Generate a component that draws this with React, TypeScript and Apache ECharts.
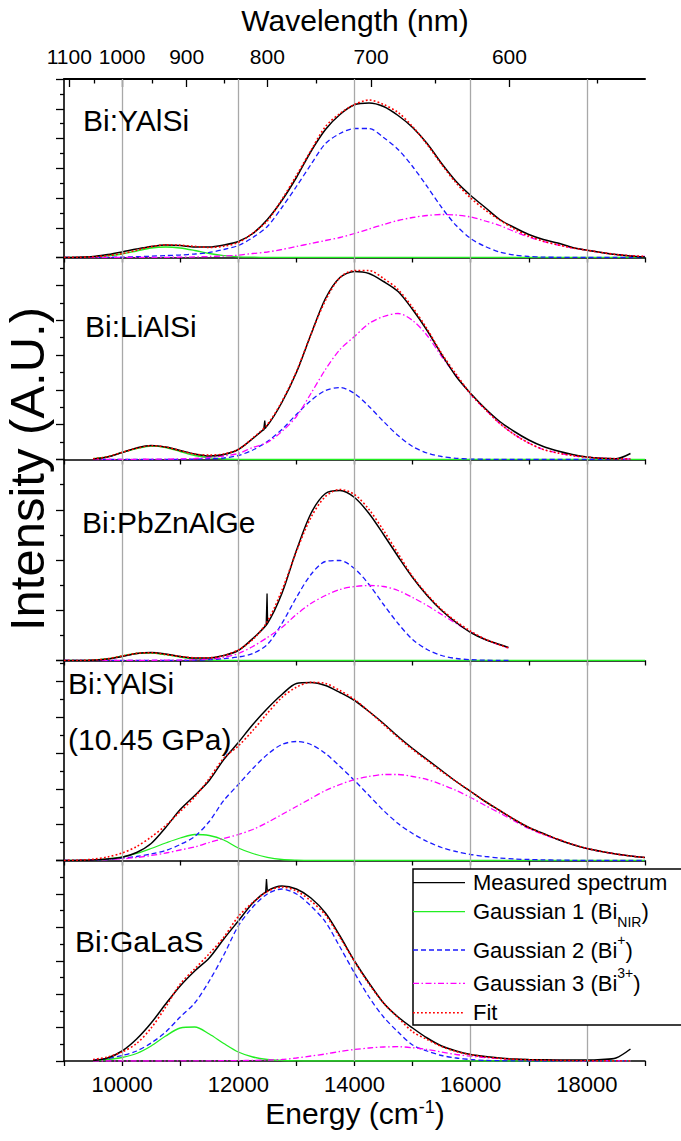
import React, { useEffect, useRef } from 'react';
import * as echarts from 'echarts';

const FONT = '"Liberation Sans", Arial, Helvetica, sans-serif';

// ---------- data ----------
const energy = [9000, 9250, 9500, 9750, 10000, 10250, 10500, 10750, 11000, 11250, 11500, 11750, 12000, 12250, 12500, 12750, 13000, 13250, 13500, 13750, 14000, 14250, 14500, 14750, 15000, 15250, 15500, 15750, 16000, 16250, 16500, 16750, 17000, 17250, 17500, 17750, 18000, 18250, 18500, 18750, 19000];
const energyP3 = [9000, 9250, 9500, 9750, 10000, 10250, 10500, 10750, 11000, 11250, 11500, 11750, 12000, 12250, 12500, 12750, 13000, 13250, 13500, 13750, 14000, 14250, 14500, 14750, 15000, 15250, 15500, 15750, 16000, 16250, 16500, 16650];

// Panel 1: Bi:YAlSi
const p1Measured = [0, 0.3, 1, 3, 5.6, 8.5, 11, 12.5, 12, 10.5, 10.5, 12.5, 16, 24, 38, 57, 80, 106, 128, 143, 152.7, 154.5, 151, 142, 130, 114, 94, 76, 62, 50, 38, 30, 23, 18, 14.5, 10, 7.3, 5, 3, 1.5, 0.5];
const p1G1 = [0, 0.2, 0.6, 1.7, 3.5, 6.5, 9.5, 10.5, 9.5, 7, 4, 1.8, 0.7, 0.3, 0.1, 0, 0, 0, 0, 0, 0, 0, 0, 0, 0, 0, 0, 0, 0, 0, 0, 0, 0, 0, 0, 0, 0, 0, 0, 0, 0];
const p1G2 = [0, 0, 0.1, 0.2, 0.4, 0.8, 1.3, 1.9, 2.5, 3.5, 5, 8, 12, 20, 31, 50, 71, 93, 114, 124, 129, 129, 120, 108, 91, 71, 50, 32, 19, 11, 5.5, 2.5, 1, 0.4, 0.2, 0.1, 0, 0, 0, 0, 0];
const p1G3 = [0, 0, 0, 0, 0, 0.05, 0.1, 0.2, 0.3, 0.6, 1, 1.5, 2.3, 4, 5.5, 8, 11, 14, 17, 20, 24, 28.5, 33, 37, 40, 42, 43, 42.5, 40.5, 36.5, 32, 26, 20.5, 16, 12.5, 9.5, 7.3, 5, 3, 1.8, 1];

// Panel 2: Bi:LiAlSi
const p2Measured = [null, null, 0.5, 2.5, 7, 11.5, 14, 12.5, 9, 5.5, 3.5, 5, 10, 21, 34, 57, 87, 125, 161, 182, 188, 186, 178, 168, 150, 129, 105, 83, 66, 51, 38, 28, 19.5, 13, 8.5, 5, 2.5, 1.2, 0.8, 6, null];
const p2G1 = [null, null, 0.8, 2.8, 7, 11, 13.5, 12, 8, 4, 1.6, 0.5, 0.1, 0, 0, 0, 0, 0, 0, 0, 0, 0, 0, 0, 0, 0, 0, 0, 0, 0, 0, 0, 0, 0, 0, 0, 0, 0, 0, 0, 0];
const p2G2 = [null, null, 0, 0, 0, 0, 0, 0.1, 0.2, 0.4, 0.8, 1.5, 4, 9.5, 18, 30, 45, 59, 69, 72, 66, 53, 38, 24, 13, 6.5, 3, 1.2, 0.5, 0.2, 0.1, 0, 0, 0, 0, 0, 0, 0, 0, 0, null];
const p2G3 = [null, null, 0, 0.05, 0.1, 0.2, 0.3, 0.4, 0.6, 1, 2, 3.5, 6, 12, 17, 28, 43, 66, 90, 110, 123, 136, 143, 146, 139, 124, 103, 84, 65, 50, 36, 25, 16.5, 10, 6.5, 4, 2.3, 1.3, 0.8, 0.5, null];
const p2Spike: [number, number][] = [[12435, 29], [12455, 39], [12470, 31]];

// Panel 3: Bi:PbZnAlGe (components on energyP3, Gaussian 1 on energy)
const p3Measured = [0, 0, 0.3, 1.5, 4, 7, 8, 6.5, 4, 2.5, 2.5, 5, 10, 22, 37, 67, 110, 147, 167, 170, 163, 147, 126, 104, 83, 65, 50, 38, 28, 21, 16, 13];
const p3G1 = [0, 0, 0.5, 1.8, 4.5, 7, 7.5, 5.8, 3.4, 1.5, 0.5, 0.15, 0.05, 0, 0, 0, 0, 0, 0, 0, 0, 0, 0, 0, 0, 0, 0, 0, 0, 0, 0, 0, 0, 0, 0, 0, 0, 0, 0, 0, 0];
const p3G2 = [0, 0, 0, 0, 0, 0, 0, 0, 0.1, 0.3, 0.8, 1.8, 3.5, 7, 16, 37, 63, 86, 99, 100, 92, 76, 56, 37, 21, 11, 5, 2, 0.8, 0.3, 0.1, 0];
const p3G3 = [0, 0, 0, 0, 0.05, 0.1, 0.2, 0.3, 0.5, 0.9, 1.5, 3, 7, 14, 23, 33, 46, 57, 65, 71, 74, 75, 74, 70, 63, 55, 46, 37, 28.5, 21, 15.5, 12.5];
const p3Spike: [number, number][] = [[12480, 36], [12495, 67], [12505, 38]];

// Panel 4: Bi:YAlSi (10.45 GPa)
const p4Measured = [0, 0.2, 0.6, 1.5, 3.3, 8, 17, 33, 51, 65, 80, 101, 118, 136, 152, 166, 177, 178, 175, 168, 160, 149, 137, 124, 112, 101, 90, 79, 69, 59, 50, 41, 33, 27, 21, 16, 12, 9, 6.5, 4.5, 3];
const p4G1 = [0, 0.1, 0.4, 1.5, 3.5, 7, 12, 17.5, 22.5, 26, 25, 20.5, 12.5, 7, 3.2, 1, 0.3, 0.1, 0, 0, 0, 0, 0, 0, 0, 0, 0, 0, 0, 0, 0, 0, 0, 0, 0, 0, 0, 0, 0, 0, 0];
const p4G2 = [0, 0.1, 0.4, 1, 2.3, 4, 6.5, 10, 16, 24, 39, 60, 76, 92, 106, 116, 119, 116, 107, 94, 80, 65, 50, 37, 27, 19, 13, 9, 6, 4, 2.5, 1.5, 1, 0.6, 0.4, 0.2, 0.1, 0, 0, 0, 0];
const p4G3 = [0, 0.2, 0.5, 1, 1.7, 3, 5, 7.5, 10.5, 13.5, 18, 22, 26, 31, 38, 46, 54, 62, 70, 76, 81, 84, 86, 86, 84, 81, 76, 70, 63, 55, 47.5, 39.5, 32, 26, 21, 16, 12, 9, 6.5, 4.5, 3];

// Panel 5: Bi:GaLaS
const p5Measured = [null, null, 0.5, 3, 10, 22, 38, 57, 75, 90, 103, 122, 140, 158, 170, 175, 172, 163, 148, 125, 100, 78, 58, 44, 33, 23, 15, 10, 6.5, 4.5, 3, 2, 1.5, 1.2, 1, 1, 1, 1.5, 3, 12, null];
const p5G1 = [null, null, 0.5, 1.5, 3.5, 7.5, 15, 25, 33, 34, 27, 17.5, 9, 4, 1.5, 0.5, 0.1, 0, 0, 0, 0, 0, 0, 0, 0, 0, 0, 0, 0, 0, 0, 0, 0, 0, 0, 0, 0, 0, 0, 0, null];
const p5G2 = [null, null, 1, 2.5, 5.5, 10, 18, 29, 44, 58, 80, 106, 135, 154, 167, 172, 167, 155, 139, 114, 88, 64, 44, 29, 16, 10, 5.5, 3, 1.5, 0.6, 0.3, 0.1, 0, 0, 0, 0, 0, 0, 0, 0, null];
const p5G3 = [null, null, 0, 0, 0, 0, 0, 0, 0.1, 0.15, 0.2, 0.3, 0.4, 0.6, 1, 1.5, 3, 5, 7, 9.5, 11.5, 13, 14, 14.3, 13.3, 11.5, 9, 6.5, 4.8, 3.5, 2.4, 1.7, 1.2, 0.8, 0.5, 0.3, 0.2, 0.1, 0.1, 0, null];
const p5Spike: [number, number][] = [[12470, 168], [12485, 182], [12500, 170]];

const gridEnergies = [10000, 12000, 14000, 16000, 18000];
const majorWavelengths = [1100, 1000, 900, 800, 700, 600];
const minorWavelengths = [1050, 950, 850, 750, 650, 550];
const panelLabels = ['Bi:YAlSi', 'Bi:LiAlSi', 'Bi:PbZnAlGe', 'Bi:YAlSi\n(10.45 GPa)', 'Bi:GaLaS'];
const legendLabels = [
  'Measured spectrum',
  '{a|Gaussian 1 (Bi}{sub|NIR}{a|)}',
  '{a|Gaussian 2 (Bi}{sup|+}{a|)}',
  '{a|Gaussian 3 (Bi}{sup|3+}{a|)}',
  'Fit',
];

// ---------- helpers ----------
type Pt = [number, number];
type Arr = (number | null)[];
function pairs(xs: number[], ys: Arr): Pt[] {
  const out: Pt[] = [];
  xs.forEach((x, i) => {
    const y = ys[i];
    if (y !== null && y !== undefined) out.push([x, y]);
  });
  return out;
}
function valueAt(xs: number[], ys: Arr, x: number): number {
  const i = xs.indexOf(x);
  if (i < 0) return 0;
  const v = ys[i];
  return v == null ? 0 : v;
}
function fitPairs(xs: number[], ref: Arr, comps: [number[], Arr][]): Pt[] {
  const out: Pt[] = [];
  xs.forEach((x, i) => {
    if (ref[i] == null) return;
    let s = 0;
    comps.forEach(([cx, cy]) => (s += valueAt(cx, cy, x)));
    out.push([x, s]);
  });
  return out;
}

const panels = [
  { m: p1Measured, mx: energy, g1: p1G1, g1x: energy, g2: p1G2, g3: p1G3, cx: energy, spike: [] as Pt[] },
  { m: p2Measured, mx: energy, g1: p2G1, g1x: energy, g2: p2G2, g3: p2G3, cx: energy, spike: p2Spike },
  { m: p3Measured, mx: energyP3, g1: p3G1, g1x: energy, g2: p3G2, g3: p3G3, cx: energyP3, spike: p3Spike },
  { m: p4Measured, mx: energy, g1: p4G1, g1x: energy, g2: p4G2, g3: p4G3, cx: energy, spike: [] as Pt[] },
  { m: p5Measured, mx: energy, g1: p5G1, g1x: energy, g2: p5G2, g3: p5G3, cx: energy, spike: p5Spike },
];

// layout
const LEFT = 64;
const RIGHT = 681 - 645;
const tops = [79, 257.5, 459.5, 660.5, 860.5];
const heights = [178.5, 202, 201, 200, 200.5];
const intervals = [29.75, 34.8, 50.25, 35.8, 33.4];
const labelPos = [[83, 120], [85, 326], [82, 522], [68, 711], [75, 941]];

const COLORS = { measured: '#000000', g1: '#22ee22', g2: '#1a1aff', g3: '#ff00ff', fit: '#ff0000' };

function buildOption() {
  const grids = tops.map((t, i) => ({ left: LEFT, right: RIGHT, top: t, height: heights[i] }));

  const xAxes: any[] = tops.map((_, i) => ({
    type: 'value',
    gridIndex: i,
    min: 9000,
    max: 19000,
    interval: 1000,
    position: 'bottom',
    axisLine: { show: true, onZero: false, lineStyle: { color: '#000', width: 1.6 } },
    axisTick: { show: true, inside: false, length: 5, lineStyle: { color: '#000', width: 1.3 } },
    axisLabel: {
      show: i === 4,
      color: '#000',
      fontSize: 22,
      fontFamily: FONT,
      margin: 12,
      formatter: (v: number) => (v % 2000 === 0 ? String(v) : ''),
    },
    splitLine: { show: false },
  }));
  const majorE = majorWavelengths.map((w) => 1e7 / w);
  const minorE = minorWavelengths.map((w) => 1e7 / w);
  xAxes.push({
    type: 'value',
    gridIndex: 0,
    min: 9000,
    max: 19000,
    position: 'top',
    axisLine: { show: true, onZero: false, lineStyle: { color: '#000', width: 2 } },
    axisTick: { show: true, inside: true, length: 8, customValues: majorE, lineStyle: { color: '#000', width: 1.3 } },
    axisLabel: {
      show: true,
      customValues: majorE,
      color: '#000',
      fontSize: 21,
      fontFamily: FONT,
      margin: 12,
      formatter: (v: number) => String(Math.round(1e7 / v)),
    },
    splitLine: { show: false },
  });
  xAxes.push({
    type: 'value',
    gridIndex: 0,
    min: 9000,
    max: 19000,
    position: 'top',
    axisLine: { show: false, onZero: false },
    axisTick: { show: true, inside: true, length: 4.5, customValues: minorE, lineStyle: { color: '#000', width: 1.3 } },
    axisLabel: { show: false },
    splitLine: { show: false },
  });

  const yAxes = tops.map((_, i) => ({
    type: 'value',
    gridIndex: i,
    min: 0,
    max: heights[i],
    interval: intervals[i],
    axisLine: { show: true, onZero: false, lineStyle: { color: '#000', width: 1.6 } },
    axisTick: { show: true, inside: false, length: 8, lineStyle: { color: '#000', width: 1.3 } },
    minorTick: { show: true, splitNumber: 2, length: 4, lineStyle: { color: '#000', width: 1.3 } },
    axisLabel: { show: false },
    splitLine: { show: false },
    minorSplitLine: { show: false },
  }));

  const series: any[] = [];
  panels.forEach((p, i) => {
    const common = { xAxisIndex: i, yAxisIndex: i, type: 'line', symbol: 'none', silent: true, smooth: 0.3 };
    series.push({
      ...common,
      name: 'grid' + i,
      data: [[9000, 0]],
      lineStyle: { width: 0, opacity: 0 },
      z: 1,
      markLine: {
        silent: true,
        symbol: ['none', 'none'],
        label: { show: false },
        emphasis: { disabled: true },
        lineStyle: { color: '#a8a8a8', width: 1.3, type: 'solid' },
        data: gridEnergies.map((v) => ({ xAxis: v })),
      },
    });
    series.push({ ...common, name: 'g1-' + i, data: pairs(p.g1x, p.g1), lineStyle: { color: COLORS.g1, width: 1.3 }, z: 3 });
    series.push({ ...common, name: 'g2-' + i, data: pairs(p.cx, p.g2), lineStyle: { color: COLORS.g2, width: 1.3, type: [5, 3] }, z: 3 });
    series.push({ ...common, name: 'g3-' + i, data: pairs(p.cx, p.g3), lineStyle: { color: COLORS.g3, width: 1.3, type: [6, 2.5, 1.5, 2.5] }, z: 3 });
    series.push({ ...common, name: 'm-' + i, data: pairs(p.mx, p.m), lineStyle: { color: COLORS.measured, width: 1.5 }, z: 4 });
    if (p.spike.length) {
      series.push({ ...common, smooth: false, name: 'ms-' + i, data: p.spike, lineStyle: { color: COLORS.measured, width: 1.3 }, z: 4 });
    }
    const fit = fitPairs(p.cx, p.g2, [[p.g1x, p.g1], [p.cx, p.g2], [p.cx, p.g3]]);
    series.push({ ...common, name: 'fit-' + i, data: fit, lineStyle: { color: COLORS.fit, width: 1.6, type: [1.8, 2.2] }, z: 5 });
  });

  const graphic: any[] = [];
  const text = (x: number, y: number, t: string, size: number, extra: any = {}) => ({
    type: 'text',
    x,
    y,
    z: 100,
    silent: true,
    ...extra,
    style: {
      text: t,
      fontSize: size,
      fontFamily: FONT,
      fill: '#000',
      textAlign: 'left',
      textVerticalAlign: 'middle',
      align: 'left',
      verticalAlign: 'middle',
      ...(extra.style || {}),
    },
  });
  graphic.push(text(355, 20, 'Wavelength (nm)', 30, { style: { textAlign: 'center', align: 'center' } }));
  graphic.push(
    text(355, 1113, '{a|Energy (cm}{s|-1}{a|)}', 30, {
      style: {
        textAlign: 'center',
        align: 'center',
        rich: {
          a: { fontSize: 30, fontFamily: FONT, fill: '#000', lineHeight: 30 },
          s: { fontSize: 18, fontFamily: FONT, fill: '#000', lineHeight: 12, verticalAlign: 'top' },
        },
      },
    })
  );
  graphic.push(
    text(27, 469, 'Intensity (A.U.)', 49, { rotation: Math.PI / 2, style: { textAlign: 'center', align: 'center', lineHeight: 46 } })
  );
  panelLabels.forEach((lab, i) => {
    graphic.push(text(labelPos[i][0], labelPos[i][1], lab, 30, { style: { lineHeight: 56 } }));
  });

  // legend
  const legendY = [882.7, 911.7, 950, 983.3, 1012.7];
  const legendStyles = [
    { stroke: COLORS.measured, lineWidth: 1.3 },
    { stroke: COLORS.g1, lineWidth: 1.3 },
    { stroke: COLORS.g2, lineWidth: 1.3, lineDash: [5, 3] },
    { stroke: COLORS.g3, lineWidth: 1.3, lineDash: [6, 2.5, 1.5, 2.5] },
    { stroke: COLORS.fit, lineWidth: 1.4, lineDash: [1.8, 2.2] },
  ];
  graphic.push({
    type: 'rect',
    z: 100,
    silent: true,
    shape: { x: 413, y: 869, width: 300, height: 156 },
    style: { fill: '#ffffff', stroke: '#000', lineWidth: 1.5 },
  });
  legendLabels.forEach((lab, i) => {
    graphic.push({
      type: 'line',
      z: 101,
      silent: true,
      shape: { x1: 413, y1: legendY[i], x2: 465, y2: legendY[i] },
      style: legendStyles[i],
    });
    graphic.push(
      text(473, legendY[i], lab, 22, {
        z: 101,
        style: {
          rich: {
            a: { fontSize: 22, fontFamily: FONT, fill: '#000', lineHeight: 34 },
            sub: { fontSize: 14, fontFamily: FONT, fill: '#000', lineHeight: 14, verticalAlign: 'bottom' },
            sup: { fontSize: 14, fontFamily: FONT, fill: '#000', lineHeight: 18, verticalAlign: 'top' },
          },
        },
      })
    );
  });

  return {
    animation: false,
    backgroundColor: '#ffffff',
    grid: grids,
    xAxis: xAxes,
    yAxis: yAxes,
    series,
    graphic,
  };
}

export default function App() {
  const ref = useRef<HTMLDivElement>(null);
  useEffect(() => {
    document.body.style.margin = '0';
    if (!ref.current) return;
    const chart = echarts.init(ref.current, null, { renderer: 'svg' });
    chart.setOption(buildOption() as any);
    return () => chart.dispose();
  }, []);
  return <div ref={ref} style={{ width: 681, height: 1141 }} />;
}
